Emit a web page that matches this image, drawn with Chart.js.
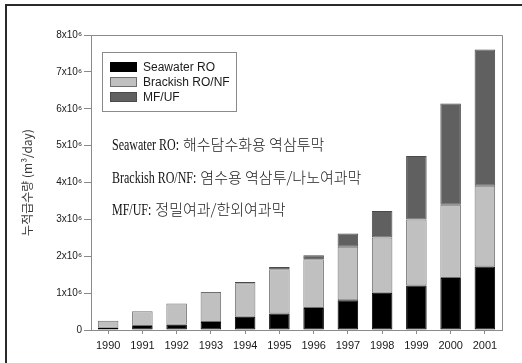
<!DOCTYPE html>
<html>
<head>
<meta charset="utf-8">
<script src="https://cdn.jsdelivr.net/npm/chart.js@4.4.1/dist/chart.umd.min.js"></script>
<style>
  html, body { margin: 0; padding: 0; background: #fff; }
  #wrap { position: relative; width: 522px; height: 363px; }
</style>
</head>
<body>
<div id="wrap"><canvas id="c" width="522" height="363"></canvas></div>
<script>
// Installed membrane capacity by year (m3/day)
const years = ['1990','1991','1992','1993','1994','1995','1996','1997','1998','1999','2000','2001'];
const seawaterRO = [60000, 110000, 140000, 220000, 360000, 450000, 600000, 810000, 1010000, 1210000, 1410000, 1720000];
const brackishRONF = [190000, 400000, 580000, 810000, 910000, 1200000, 1320000, 1450000, 1500000, 1790000, 1990000, 2190000];
const mfUF = [0, 0, 0, 0, 30000, 60000, 110000, 360000, 720000, 1720000, 2740000, 3700000];
const yTicks = [0, 1000000, 2000000, 3000000, 4000000, 5000000, 6000000, 7000000, 8000000];

const seriesNames = ['Seawater RO', 'Brackish RO/NF', 'MF/UF'];
const seriesColors = ['#000000', '#c0c0c0', '#606060'];
const seriesBorders = ['#000000', '#6e6e6e', '#4a4a4a'];

const notes = [
  ['Seawater RO:', '해수담수화용 역삼투막'],
  ['Brackish RO/NF:', '염수용 역삼투/나노여과막'],
  ['MF/UF:', '정밀여과/한외여과막']
];

const SUP6 = '\u2076';

// page frame, plot box, legend and notes
const decor = {
  id: 'decor',
  beforeDraw(chart) {
    const ctx = chart.ctx;
    ctx.save();
    ctx.fillStyle = '#2a2a2a';
    ctx.fillRect(5, 4, 2, 363);
    ctx.fillRect(5, 4, 522, 2);
    ctx.restore();
  },
  afterDraw(chart) {
    const ctx = chart.ctx;
    const a = chart.chartArea;
    ctx.save();
    // top and right edges of the plot box
    ctx.strokeStyle = '#8a8a8a';
    ctx.lineWidth = 1;
    ctx.beginPath();
    ctx.moveTo(Math.round(a.left) + 0.5, Math.round(a.top) + 0.5);
    ctx.lineTo(Math.round(a.right) + 0.5, Math.round(a.top) + 0.5);
    ctx.lineTo(Math.round(a.right) + 0.5, Math.round(a.bottom) + 0.5);
    ctx.stroke();

    // legend
    ctx.strokeStyle = '#8a8a8a';
    ctx.strokeRect(102.5, 52.5, 134, 59);
    ctx.font = '12px "Liberation Sans", Arial, sans-serif';
    ctx.textBaseline = 'middle';
    chart.data.datasets.forEach((ds, i) => {
      const cy = 67 + i * 15;
      ctx.fillStyle = ds.backgroundColor;
      ctx.fillRect(110, cy - 5, 27, 10);
      ctx.strokeStyle = ds.borderColor;
      ctx.strokeRect(110.5, cy - 4.5, 26, 9);
      ctx.fillStyle = '#1a1a1a';
      ctx.fillText(ds.label, 143, cy + 0.5);
    });

    // notes
    ctx.textBaseline = 'alphabetic';
    const baselines = [150, 183, 215];
    notes.forEach((n, i) => {
      const y = baselines[i];
      ctx.save();
      ctx.font = '16px "Liberation Serif", "Times New Roman", serif';
      const sx = 0.75;
      const w = ctx.measureText(n[0]).width * sx;
      ctx.translate(112, y);
      ctx.scale(sx, 1);
      ctx.fillStyle = '#111';
      ctx.fillText(n[0], 0, 0);
      ctx.restore();
      ctx.font = '300 15px "Noto Sans CJK KR", sans-serif';
      ctx.fillStyle = '#222';
      ctx.fillText(n[1], 112 + w + 4, y);
    });
    ctx.restore();
  }
};

new Chart(document.getElementById('c'), {
  type: 'bar',
  data: {
    labels: years,
    datasets: [seawaterRO, brackishRONF, mfUF].map((vals, i) => ({
      label: seriesNames[i],
      data: vals,
      backgroundColor: seriesColors[i],
      borderColor: seriesBorders[i],
      borderWidth: 1,
      borderSkipped: false,
      categoryPercentage: 1.0,
      barPercentage: 0.6
    }))
  },
  options: {
    responsive: false,
    animation: false,
    devicePixelRatio: 1,
    layout: { padding: { top: 35, right: 20, left: 0, bottom: 0 } },
    plugins: { legend: { display: false }, tooltip: { enabled: false } },
    scales: {
      x: {
        stacked: true,
        offset: true,
        border: { display: true, color: '#8a8a8a', width: 1 },
        grid: { display: true, drawOnChartArea: false, drawTicks: true, tickLength: 4, color: '#8a8a8a', offset: false },
        ticks: { color: '#1a1a1a', padding: 5, font: { family: '"Liberation Sans", Arial, sans-serif', size: 11 } },
        afterFit(scale) { scale.height = 33; }
      },
      y: {
        stacked: true,
        min: 0,
        max: 8000000,
        afterBuildTicks(scale) { scale.ticks = yTicks.map(v => ({ value: v })); },
        border: { display: true, color: '#8a8a8a', width: 1 },
        grid: { display: true, drawOnChartArea: false, drawTicks: true, tickLength: 7, color: '#8a8a8a' },
        ticks: {
          color: '#1a1a1a',
          padding: 2,
          font: { family: '"Liberation Sans", Arial, sans-serif', size: 10 },
          callback: v => v === 0 ? '0' : (v / 1000000) + 'x10' + SUP6
        },
        title: {
          display: true,
          text: '누적급수량 (m³/day)',
          color: '#3a3a3a',
          font: { family: '"Noto Sans CJK KR", sans-serif', size: 12 },
          padding: { top: 20, bottom: 0 }
        },
        afterFit(scale) { scale.width = 91; }
      }
    }
  },
  plugins: [decor]
});
</script>
</body>
</html>
